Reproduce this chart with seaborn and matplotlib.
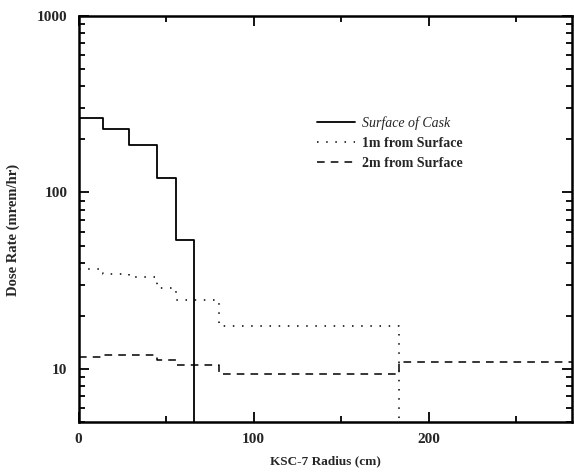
import numpy as np
import pandas as pd
import matplotlib
matplotlib.use('Agg')
import matplotlib.pyplot as plt
import matplotlib.ticker as mticker
import seaborn as sns

# step edges (cm) and dose rates (mrem/hr)
surface_x = [0, 14, 29, 44.5, 55.5, 66]
surface_y = [265, 230, 186, 121, 54, 1]
one_m_x = [0, 14, 29, 44.5, 55.5, 80, 183]
one_m_y = [37, 34.7, 33.2, 28.7, 24.7, 17.4, 1]
two_m_x = [0, 14, 29, 44.5, 55.5, 80, 183, 282]
two_m_y = [11.6, 11.9, 11.9, 11.2, 10.5, 9.4, 10.9, 10.9]

series_names = ['Surface of Cask', '1m from Surface', '2m from Surface']

sns.set_style('ticks')
plt.rcParams['font.family'] = ['Liberation Serif', 'DejaVu Serif']

frames = []
for name, xs, ys in zip(series_names, [surface_x, one_m_x, two_m_x],
                        [surface_y, one_m_y, two_m_y]):
    frames.append(pd.DataFrame({'radius': xs, 'dose': ys, 'series': name}))
df = pd.concat(frames, ignore_index=True)

fig = plt.figure(figsize=(5.74, 4.74), dpi=100)
ax = fig.add_axes([0.137, 0.110, 0.860, 0.856])

styles = {'Surface of Cask': (1.3, '-'),
          '1m from Surface': (1.1, (0, (1, 5))),
          '2m from Surface': (1.1, (0, (5, 4)))}
for name in series_names:
    lw, ls = styles[name]
    sub = df[df['series'] == name]
    sns.lineplot(data=sub, x='radius', y='dose', ax=ax, color='black',
                 linewidth=lw, linestyle=ls, drawstyle='steps-post',
                 estimator=None, label=name)

ax.set_yscale('log')
ax.set_ylim(5, 1000)
ax.set_xlim(0, 282)

ax.xaxis.set_major_locator(mticker.MultipleLocator(100))
ax.xaxis.set_minor_locator(mticker.MultipleLocator(50))
ax.yaxis.set_major_locator(mticker.LogLocator(base=10))
ax.yaxis.set_minor_locator(mticker.LogLocator(base=10, subs=np.arange(2, 10)))
ax.yaxis.set_major_formatter(mticker.FuncFormatter(lambda v, p: f'{int(v)}'))
ax.yaxis.set_minor_formatter(mticker.NullFormatter())

ax.tick_params(which='both', direction='in', top=True, right=True,
               width=1.3, color='black')
ax.tick_params(which='major', length=7, labelsize=11, pad=8)
ax.tick_params(which='minor', length=4)
for lab in ax.get_xticklabels() + ax.get_yticklabels():
    lab.set_fontweight('bold')

for sp in ax.spines.values():
    sp.set_visible(True)
    sp.set_linewidth(1.8)
    sp.set_color('black')

ax.set_xlabel('KSC-7 Radius (cm)', fontsize=9.5, fontweight='bold', labelpad=7)
ax.set_ylabel('Dose Rate (mrem/hr)', fontsize=10.5, fontweight='bold')
ax.yaxis.set_label_coords(-0.119, 0.473)

leg = ax.legend(loc='upper left', bbox_to_anchor=(0.472, 0.768), frameon=False,
                fontsize=10, handlelength=2.7, handletextpad=0.5,
                labelspacing=0.52, borderaxespad=0)
texts = leg.get_texts()
texts[0].set_fontstyle('italic')
for t in texts[1:]:
    t.set_fontweight('bold')

fig.savefig('out.png', dpi=100)
